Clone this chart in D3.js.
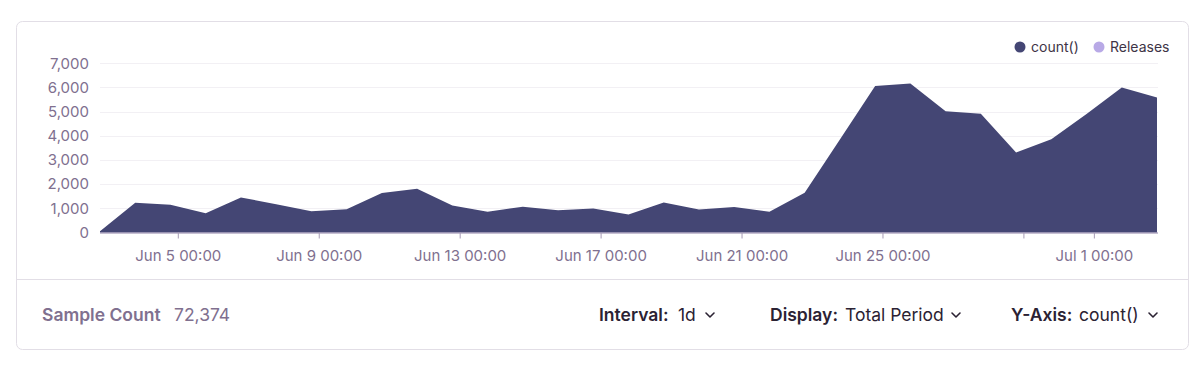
<!DOCTYPE html>
<html>
<head>
<meta charset="utf-8">
<script src="https://cdn.jsdelivr.net/npm/d3@7"></script>
<style>
  body { margin: 0; background: #fff; }
  svg text { font-family: "Inter", "Noto Sans", sans-serif; }
</style>
</head>
<body>
<div id="chart"></div>
<script>
// daily counts, first bucket starts Jun 2 19:00
var startDate = new Date(2021, 5, 2, 19, 0);
var counts = [50, 1230, 1147, 800, 1450, 1170, 880, 965, 1630, 1810, 1120, 857, 1065, 925, 995, 745,
              1243, 953, 1050, 857, 1645, 3850, 6060, 6160, 5012, 4917, 3314, 3853, 4900, 5994, 5580];
var tickDates = [new Date(2021, 5, 5), new Date(2021, 5, 9), new Date(2021, 5, 13), new Date(2021, 5, 17),
                 new Date(2021, 5, 21), new Date(2021, 5, 25), new Date(2021, 5, 29), new Date(2021, 6, 1)];
var tickLabels = ["Jun 5 00:00", "Jun 9 00:00", "Jun 13 00:00", "Jun 17 00:00",
                  "Jun 21 00:00", "Jun 25 00:00", "", "Jul 1 00:00"];
var yTicks = [0, 1000, 2000, 3000, 4000, 5000, 6000, 7000];
var legendItems = ["count()", "Releases"];
var legendColors = ["#444674", "#b8a9e6"];
var sampleCount = "72,374";
var controls = [["Interval:", "1d"], ["Display:", "Total Period"], ["Y-Axis:", "count()"]];

var data = counts.map(function (v, i) {
  return { date: d3.timeDay.offset(startDate, i), value: v };
});

var width = 1200, height = 365;
var svg = d3.select("#chart").append("svg").attr("width", width).attr("height", height);

// card
svg.append("rect").attr("x", 16.5).attr("y", 21.5).attr("width", 1172).attr("height", 328)
  .attr("rx", 6).attr("fill", "#fff").attr("stroke", "#e2dee6");
svg.append("line").attr("x1", 17).attr("x2", 1188).attr("y1", 279.5).attr("y2", 279.5).attr("stroke", "#e2dee6");

var x = d3.scaleTime().domain([startDate, data[data.length - 1].date]).range([100, 1157]);
var y = d3.scaleLinear().domain([0, 7000]).range([232.5, 63.3]);

// grid
svg.append("g").selectAll("line").data(yTicks.slice(1)).enter().append("line")
  .attr("x1", 100).attr("x2", 1158)
  .attr("y1", function (d) { return Math.round(y(d)) + 0.5; })
  .attr("y2", function (d) { return Math.round(y(d)) + 0.5; })
  .attr("stroke", "#f2f0f4");

// y labels
svg.append("g").selectAll("text").data(yTicks).enter().append("text")
  .attr("x", 89).attr("y", function (d) { return y(d); }).attr("dy", "0.35em")
  .attr("text-anchor", "end").attr("fill", "#80708f").style("font-size", "15px")
  .text(function (d) { return d3.format(",")(d); });

// area
var area = d3.area().x(function (d) { return x(d.date); }).y0(y(0)).y1(function (d) { return y(d.value); });
svg.append("path").datum(data).attr("d", area).attr("fill", "#444674");

// x axis
var xAxis = d3.axisBottom(x).tickValues(tickDates).tickSize(6).tickSizeOuter(0)
  .tickFormat(function (d, i) { return tickLabels[i]; });
var gx = svg.append("g").attr("transform", "translate(0," + y(0) + ")").call(xAxis);
gx.select(".domain").attr("stroke", "#8f82a8").attr("d", "M100,0.5H1158");
gx.selectAll(".tick line").attr("stroke", "#a69bb5");
gx.selectAll(".tick text").attr("fill", "#80708f").attr("dy", "1.3em")
  .style("font-size", "15px").style("font-family", "Inter, 'Noto Sans', sans-serif");

// legend
var legendX = [1020, 1099];
legendItems.forEach(function (name, i) {
  svg.append("circle").attr("cx", legendX[i]).attr("cy", 47).attr("r", 5.5).attr("fill", legendColors[i]);
  svg.append("text").attr("x", legendX[i] + 11).attr("y", 47).attr("dy", "0.35em")
    .attr("fill", "#3e3446").style("font-size", "14px").text(name);
});

// footer
svg.append("text").attr("x", 42).attr("y", 315).attr("dy", "0.35em").attr("fill", "#80708f")
  .style("font-size", "17.5px").style("font-weight", 600).text("Sample Count");
svg.append("text").attr("x", 174).attr("y", 315).attr("dy", "0.35em").attr("fill", "#80708f")
  .style("font-size", "17.5px").text(sampleCount);

var controlX = [599, 770, 1011];
var valueX = [678, 845, 1079];
var chevronX = [710, 956, 1153];
controls.forEach(function (c, i) {
  svg.append("text").attr("x", controlX[i]).attr("y", 315).attr("dy", "0.35em").attr("fill", "#2b2233")
    .style("font-size", "17.5px").style("font-weight", 600).text(c[0]);
  svg.append("text").attr("x", valueX[i]).attr("y", 315).attr("dy", "0.35em").attr("fill", "#2b2233")
    .style("font-size", "17.5px").text(c[1]);
  var cx = chevronX[i];
  svg.append("path").attr("d", "M" + (cx - 4) + ",313L" + cx + ",317L" + (cx + 4) + ",313")
    .attr("fill", "none").attr("stroke", "#2b2233").attr("stroke-width", 1.6)
    .attr("stroke-linecap", "round").attr("stroke-linejoin", "round");
});
</script>
</body>
</html>
